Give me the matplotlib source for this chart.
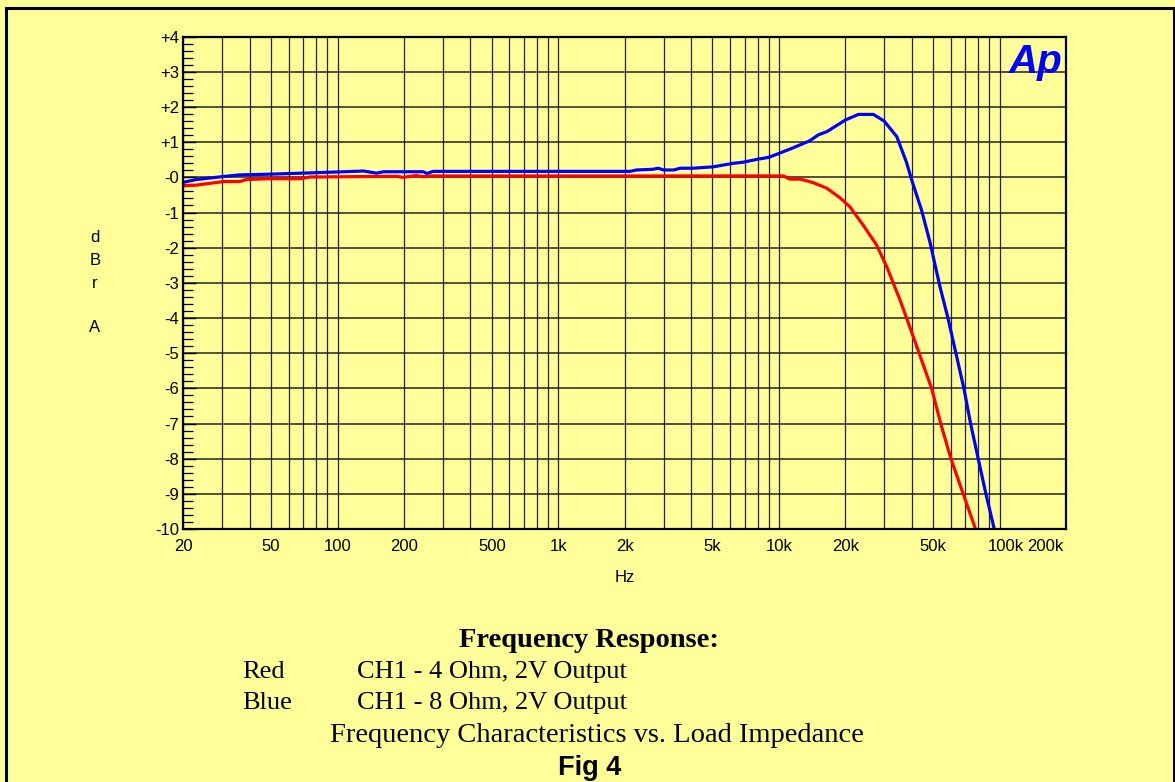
import numpy as np
import matplotlib.pyplot as plt
import matplotlib.transforms as mtransforms
from matplotlib.ticker import FixedLocator, NullLocator
from matplotlib.lines import Line2D

# Blue: CH1 - 8 Ohm, 2V Output
blue_freq = [20, 23, 30, 36, 49, 78, 131, 150, 162, 245, 254, 271, 746, 2110,
             2270, 2690, 2840, 3000, 3340, 3570, 4080, 5050, 6210, 6880, 7930,
             9000, 10000, 11600, 13800, 15100, 16500, 20000, 22900, 26800,
             30000, 34200, 37800, 40000, 44300, 48300, 53700, 58500, 63400,
             68900, 73900, 80000, 86700, 94600]
blue_db = [-0.14, -0.06, 0.02, 0.07, 0.09, 0.13, 0.18, 0.12, 0.16, 0.16, 0.11,
           0.17, 0.17, 0.17, 0.21, 0.23, 0.26, 0.21, 0.21, 0.26, 0.26, 0.30,
           0.40, 0.43, 0.51, 0.57, 0.68, 0.84, 1.04, 1.21, 1.30, 1.63, 1.79,
           1.79, 1.60, 1.16, 0.44, -0.08, -0.93, -1.83, -3.11, -4.03, -5.0,
           -6.0, -7.0, -8.0, -9.0, -10.0]

# Red: CH1 - 4 Ohm, 2V Output
red_freq = [20, 23, 26.4, 30.4, 36, 38.7, 49.4, 67.6, 75, 186, 197, 227, 245,
            263, 10500, 11200, 12500, 14300, 16500, 18900, 21000, 24100,
            27700, 30800, 35400, 37900, 43200, 49200, 54100, 60200, 68400,
            77800]
red_db = [-0.24, -0.22, -0.17, -0.12, -0.12, -0.06, -0.04, -0.04, 0.01, 0.03,
          0.0, 0.05, 0.02, 0.04, 0.04, -0.05, -0.05, -0.15, -0.31, -0.58,
          -0.84, -1.36, -1.92, -2.54, -3.49, -4.0, -5.0, -6.0, -7.0, -8.0,
          -9.0, -10.0]

y_ticks = list(range(4, -11, -1))
y_tick_labels = ['+4', '+3', '+2', '+1', '-0', '-1', '-2', '-3', '-4', '-5',
                 '-6', '-7', '-8', '-9', '-10']
x_ticks = [20, 50, 100, 200, 500, 1000, 2000, 5000, 10000, 20000, 50000,
           100000, 200000]
x_tick_labels = ['20', '50', '100', '200', '500', '1k', '2k', '5k', '10k',
                 '20k', '50k', '100k', '200k']

W, H = 1175, 782
BG = '#FFFF99'
GRID = '#222222'
SANS = 'Liberation Sans'
SERIF = 'Liberation Serif'


def fx(px):
    return px / W


def fy(py):
    return 1 - py / H


fig = plt.figure(figsize=(W / 100, H / 100), dpi=100, facecolor=BG)

# outer frame: left, top, right (bottom edge is cut off in the original)
fig.add_artist(Line2D([fx(6), fx(6)], [fy(800), fy(7.5)], color='black', lw=2.2))
fig.add_artist(Line2D([fx(6), fx(1173.5)], [fy(7.5), fy(7.5)], color='black', lw=2.2))
fig.add_artist(Line2D([fx(1173.5), fx(1173.5)], [fy(7.5), fy(800)], color='black', lw=2.2))

ax = fig.add_axes([fx(183.3), fy(529), (1066 - 183.3) / W, (529 - 36.7) / H])
ax.set_facecolor(BG)
ax.set_xscale('log')
ax.set_xlim(20, 200000)
ax.set_ylim(-10, 4)

# grid: every 1-9 step per decade, every dB
v_lines = []
for dec in [10, 100, 1000, 10000, 100000]:
    for m in range(1, 10):
        v = m * dec
        if 20 <= v <= 200000:
            v_lines.append(v)
for v in v_lines:
    ax.axvline(v, color=GRID, lw=0.9, zorder=1)
for t in y_ticks:
    ax.axhline(t, color=GRID, lw=1.1, zorder=1)

ax.plot(red_freq, red_db, color='#FF0000', lw=2.3, zorder=3)
ax.plot(blue_freq, blue_db, color='#0000FF', lw=2.3, zorder=3)

ax.yaxis.set_major_locator(FixedLocator(y_ticks))
ax.set_yticklabels(y_tick_labels)
ax.yaxis.set_minor_locator(FixedLocator(np.arange(-10, 4.01, 0.2)))
ax.tick_params(axis='y', which='major', direction='in', length=9, width=1,
               pad=3, labelsize=12, colors='black')
ax.tick_params(axis='y', which='minor', direction='in', length=7, width=0.9)
ax.tick_params(axis='y', which='both', right=False)

ax.xaxis.set_major_locator(FixedLocator(x_ticks))
ax.xaxis.set_minor_locator(NullLocator())
ax.set_xticklabels(x_tick_labels)
ax.tick_params(axis='x', which='both', length=0, pad=7, labelsize=12)

for lab in ax.get_xticklabels() + ax.get_yticklabels():
    lab.set_fontfamily(SANS)

# the last two x labels are nudged inside the frame, as in the original
xlabs = ax.get_xticklabels()
xlabs[-2].set_transform(xlabs[-2].get_transform() +
                        mtransforms.ScaledTranslation(6 / 100, 0, fig.dpi_scale_trans))
xlabs[-1].set_horizontalalignment('right')
xlabs[-1].set_transform(xlabs[-1].get_transform() +
                        mtransforms.ScaledTranslation(-3 / 100, 0, fig.dpi_scale_trans))

for s in ax.spines.values():
    s.set_linewidth(1.6)
    s.set_color('black')
    s.set_zorder(4)

fig.text(fx(624.7), fy(577), 'Hz', ha='center', va='center', fontsize=12,
         family=SANS)

for letter, py in zip(['d', 'B', 'r', 'A'], [238, 260.5, 283, 328]):
    fig.text(fx(95), fy(py), letter, ha='center', va='center', fontsize=12,
             family=SANS)

# Ap logo
fig.text(fx(1063), fy(73), 'Ap', ha='right', va='baseline', fontsize=29,
         color='#0000FF', fontweight='heavy', fontstyle='italic', family=SANS)

# caption block
fig.text(fx(589), fy(647), 'Frequency Response:', ha='center', va='baseline',
         fontsize=20.5, fontweight='bold', family=SERIF)
fig.text(fx(242), fy(678), 'Red', ha='left', va='baseline', fontsize=19, family=SERIF)
fig.text(fx(357), fy(678), 'CH1 - 4 Ohm, 2V Output', ha='left', va='baseline',
         fontsize=19, family=SERIF)
fig.text(fx(242), fy(709), 'Blue', ha='left', va='baseline', fontsize=19, family=SERIF)
fig.text(fx(357), fy(709), 'CH1 - 8 Ohm, 2V Output', ha='left', va='baseline',
         fontsize=19, family=SERIF)
fig.text(fx(597), fy(742), 'Frequency Characteristics vs. Load Impedance',
         ha='center', va='baseline', fontsize=20.5, family=SERIF)
fig.text(fx(590), fy(775), 'Fig 4', ha='center', va='baseline', fontsize=19.5,
         fontweight='bold', family=SANS)

fig.savefig('out.png', dpi=100, facecolor=BG)
